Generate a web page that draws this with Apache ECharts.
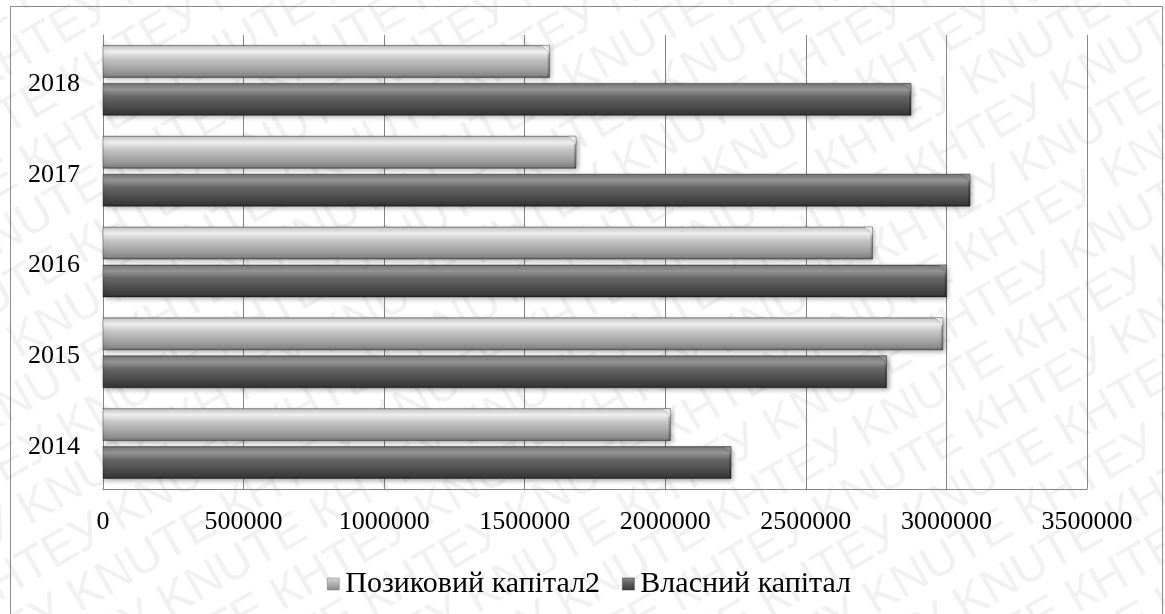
<!DOCTYPE html>
<html>
<head>
<meta charset="utf-8">
<script src="https://cdn.jsdelivr.net/npm/echarts@6/dist/echarts.min.js"></script>
<style>
  html, body { margin: 0; padding: 0; background: #ffffff; }
  #chart { width: 1165px; height: 614px; }
</style>
</head>
<body>
<div id="chart"></div>
<script>
// Years on the category axis (bottom to top)
const years = ['2014', '2015', '2016', '2017', '2018'];
// Series values, one per year
const borrowedCapital = [2018000, 2987000, 2737000, 1682000, 1588000];
const equityCapital = [2234000, 2787000, 3000000, 3084000, 2874000];
// Series names as shown in the legend
const borrowedName = 'Позиковий капітал2';
const equityName = 'Власний капітал';
// Value axis ticks
const xMin = 0;
const xMax = 3500000;
const xStep = 500000;

const serif = '"Liberation Serif", "Times New Roman", serif';

function vGrad(stops) {
  return new echarts.graphic.LinearGradient(0, 0, 0, 1,
    stops.map(s => ({ offset: s[0], color: s[1] })));
}

const lightFill = vGrad([
  [0, '#9a9a9a'], [0.06, '#cfcfcf'], [0.2, '#f0f0f0'], [0.42, '#c6c6c6'],
  [0.78, '#9c9c9c'], [0.93, '#858585'], [1, '#555555']
]);
const darkFill = vGrad([
  [0, '#505050'], [0.06, '#7e7e7e'], [0.2, '#969696'], [0.42, '#666666'],
  [0.78, '#474747'], [0.93, '#383838'], [1, '#202020']
]);
const lightIcon = vGrad([[0, '#d8d8d8'], [0.5, '#b0b0b0'], [1, '#8a8a8a']]);
const darkIcon = vGrad([[0, '#8a8a8a'], [0.5, '#5a5a5a'], [1, '#3a3a3a']]);

// Bevelled bar: side -1 sits above the band centre, +1 below it
function bevelBar(side, fill, capColor) {
  return function (params, api) {
    const cat = api.value(1);
    const val = api.value(0);
    const start = api.coord([0, cat]);
    const end = api.coord([val, cat]);
    const band = api.size([0, 1])[1];
    const h = band * 0.352;
    const gap = band * 0.066;
    const y0 = side < 0 ? start[1] - gap / 2 - h : start[1] + gap / 2;
    const y1 = y0 + h;
    const x0 = start[0];
    const x1 = end[0];
    const b = Math.min(8, h * 0.25);
    return {
      type: 'group',
      children: [
        {
          type: 'rect',
          shape: { x: x0, y: y0, width: x1 - x0, height: h },
          style: {
            fill: fill,
            stroke: 'rgba(0,0,0,0.35)',
            lineWidth: 1,
            shadowBlur: 5,
            shadowOffsetX: 2,
            shadowOffsetY: 2,
            shadowColor: 'rgba(0,0,0,0.35)'
          }
        },
        {
          type: 'polygon',
          shape: { points: [[x1 - b, y0], [x1, y0], [x1, y0 + b]] },
          style: { fill: capColor, stroke: 'rgba(0,0,0,0.25)', lineWidth: 0.6 }
        },
        {
          type: 'polygon',
          shape: { points: [[x1 - 2, y0 + b], [x1, y0 + b], [x1, y1], [x1 - 2, y1]] },
          style: { fill: 'rgba(0,0,0,0.18)' }
        }
      ]
    };
  };
}

// Diagonal watermark rows
const markRows = [];
for (let k = -14; k <= 14; k++) {
  markRows.push({
    type: 'text',
    x: -1100 + (k % 2 === 0 ? 0 : 75),
    y: k * 50,
    style: {
      text: ('КНТЕУ KNUTE ').repeat(14),
      font: '48px "Liberation Sans", Arial, sans-serif',
      fill: 'rgba(120,120,120,0.10)',
      textVerticalAlign: 'middle'
    },
    silent: true
  });
}

const chart = echarts.init(document.getElementById('chart'), null, { renderer: 'canvas' });

chart.setOption({
  backgroundColor: '#ffffff',
  animation: false,
  grid: { left: 103, top: 35, right: 78, bottom: 125, containLabel: false },
  legend: {
    data: [
      { name: borrowedName, icon: 'rect', itemStyle: { color: lightIcon, borderColor: '#777', borderWidth: 0.5 } },
      { name: equityName, icon: 'rect', itemStyle: { color: darkIcon, borderColor: '#333', borderWidth: 0.5 } }
    ],
    left: 322,
    top: 564,
    itemWidth: 12,
    itemHeight: 12,
    itemGap: 22,
    textStyle: { fontFamily: serif, fontSize: 30, color: '#000000', padding: [0, 0, 0, 1] }
  },
  xAxis: {
    type: 'value',
    min: xMin,
    max: xMax,
    interval: xStep,
    axisLine: { show: true, lineStyle: { color: '#868686', width: 1 } },
    axisTick: { show: false },
    splitLine: { show: true, lineStyle: { color: '#868686', width: 1 } },
    axisLabel: {
      fontFamily: serif, fontSize: 26, color: '#000000', margin: 20,
      formatter: v => String(v)
    }
  },
  yAxis: {
    type: 'category',
    data: years,
    axisLine: { show: true, lineStyle: { color: '#868686', width: 1 } },
    axisTick: { show: false },
    splitLine: { show: false },
    axisLabel: {
      margin: 23,
      formatter: '{y|{value}}',
      rich: {
        y: { fontFamily: serif, fontSize: 26, color: '#000000', padding: [7, 0, 0, 0] }
      }
    }
  },
  series: [
    {
      name: borrowedName,
      type: 'custom',
      renderItem: bevelBar(-1, lightFill, '#e6e6e6'),
      encode: { x: 0, y: 1 },
      itemStyle: { color: lightIcon },
      data: borrowedCapital.map((v, i) => [v, i]),
      z: 3
    },
    {
      name: equityName,
      type: 'custom',
      renderItem: bevelBar(1, darkFill, '#8a8a8a'),
      encode: { x: 0, y: 1 },
      itemStyle: { color: darkIcon },
      data: equityCapital.map((v, i) => [v, i]),
      z: 3
    }
  ],
  graphic: [
    {
      type: 'rect',
      shape: { x: 10.5, y: 6.5, width: 1152, height: 700 },
      style: { fill: 'none', stroke: '#8a8a8a', lineWidth: 1 },
      silent: true,
      z: 1
    },
    {
      type: 'group',
      x: 582,
      y: 307,
      rotation: Math.PI / 6,
      children: markRows,
      silent: true,
      z: 100
    }
  ]
});
</script>
</body>
</html>
